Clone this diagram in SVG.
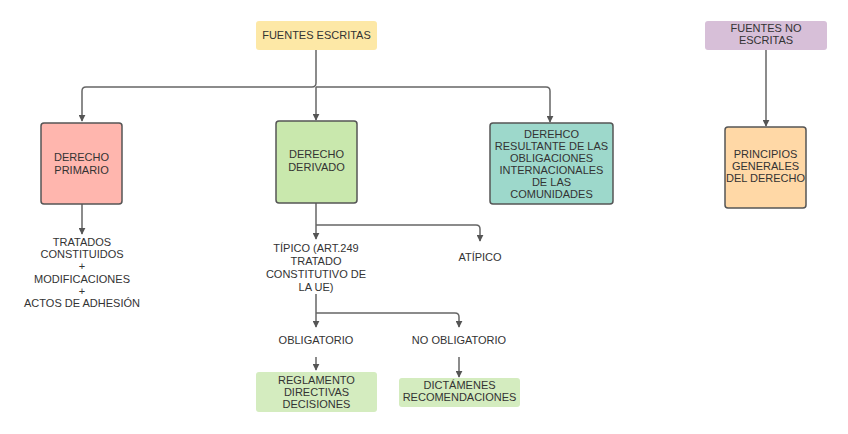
<svg xmlns="http://www.w3.org/2000/svg" width="848" height="434" viewBox="0 0 848 434">
<defs>
<marker id="ah" viewBox="0 0 10 10" refX="9" refY="5" markerWidth="7" markerHeight="7" markerUnits="userSpaceOnUse" orient="auto">
<path d="M0,0 L10,5 L0,10 Z" fill="#555"/>
</marker>
</defs>
<style>
text{font-family:"Liberation Sans",Arial,sans-serif;font-size:11px;fill:#333;text-anchor:middle;}
.c{fill:none;stroke:#666;stroke-width:1.5;}
.b{stroke:#555;stroke-width:1.5;}
</style>
<rect width="848" height="434" fill="#fff"/>
<g id="connectors">
<path class="c" d="M316,50 V83 Q316,87 312,87 H86 Q82,87 82,91 V121" marker-end="url(#ah)"/>
<path class="c" d="M316,87 V120" marker-end="url(#ah)"/>
<path class="c" d="M316,87 H546 Q550,87 550,91 V122" marker-end="url(#ah)"/>
<path class="c" d="M766,50 V126" marker-end="url(#ah)"/>
<path class="c" d="M82,204 V234" marker-end="url(#ah)"/>
<path class="c" d="M316,203 V239" marker-end="url(#ah)"/>
<path class="c" d="M316,225 H476 Q480,225 480,229 V241" marker-end="url(#ah)"/>
<path class="c" d="M316,294 V327" marker-end="url(#ah)"/>
<path class="c" d="M316,313 H455 Q459,313 459,317 V327" marker-end="url(#ah)"/>
<path class="c" d="M316,357 V370" marker-end="url(#ah)"/>
<path class="c" d="M459,357 V377" marker-end="url(#ah)"/>
</g>
<g id="fuentes-escritas">
<rect x="256" y="21" width="121" height="29" rx="3" fill="#fde8a6"/>
<text x="316.5" y="39">FUENTES ESCRITAS</text>
</g>
<g id="fuentes-no-escritas">
<rect x="705" y="21" width="122" height="29" rx="3" fill="#d7bfd8"/>
<text x="766" y="32">FUENTES NO</text>
<text x="766" y="44">ESCRITAS</text>
</g>
<g id="derecho-primario">
<rect class="b" x="41" y="123" width="81" height="81" rx="3" fill="#ffb6ae"/>
<text x="81.5" y="161">DERECHO</text>
<text x="81.5" y="174">PRIMARIO</text>
</g>
<g id="derecho-derivado">
<rect class="b" x="276" y="121" width="81" height="82" rx="3" fill="#c9e8ad"/>
<text x="316.5" y="158">DERECHO</text>
<text x="316.5" y="171">DERIVADO</text>
</g>
<g id="derehco-resultante">
<rect class="b" x="490" y="123" width="123" height="81" rx="3" fill="#9dd8cb"/>
<text x="551.5" y="138">DEREHCO</text>
<text x="551.5" y="150">RESULTANTE DE LAS</text>
<text x="551.5" y="162">OBLIGACIONES</text>
<text x="551.5" y="174">INTERNACIONALES</text>
<text x="551.5" y="186">DE LAS</text>
<text x="551.5" y="198">COMUNIDADES</text>
</g>
<g id="principios">
<rect class="b" x="725" y="127" width="81" height="81" rx="3" fill="#ffd8a6"/>
<text x="765.5" y="158">PRINCIPIOS</text>
<text x="765.5" y="170">GENERALES</text>
<text x="765.5" y="182">DEL DERECHO</text>
</g>
<g id="tratados">
<text x="82" y="246">TRATADOS</text>
<text x="82" y="258">CONSTITUIDOS</text>
<text x="82" y="270">+</text>
<text x="82" y="283">MODIFICACIONES</text>
<text x="82" y="295">+</text>
<text x="82" y="307">ACTOS DE ADHESIÓN</text>
</g>
<g id="tipico">
<text x="316" y="252">TÍPICO (ART.249</text>
<text x="316" y="265">TRATADO</text>
<text x="316" y="278">CONSTITUTIVO DE</text>
<text x="316" y="291">LA UE)</text>
</g>
<g id="atipico">
<text x="480" y="261">ATÍPICO</text>
</g>
<g id="obligatorio">
<text x="316" y="344">OBLIGATORIO</text>
</g>
<g id="no-obligatorio">
<text x="459" y="344">NO OBLIGATORIO</text>
</g>
<g id="reglamento">
<rect x="256" y="372" width="121" height="40" rx="3" fill="#d4ecbf"/>
<text x="316.5" y="384">REGLAMENTO</text>
<text x="316.5" y="396">DIRECTIVAS</text>
<text x="316.5" y="408">DECISIONES</text>
</g>
<g id="dictamenes">
<rect x="399" y="378" width="121" height="29" rx="3" fill="#d4ecbf"/>
<text x="459.5" y="389">DICTÁMENES</text>
<text x="459.5" y="401">RECOMENDACIONES</text>
</g>
</svg>
